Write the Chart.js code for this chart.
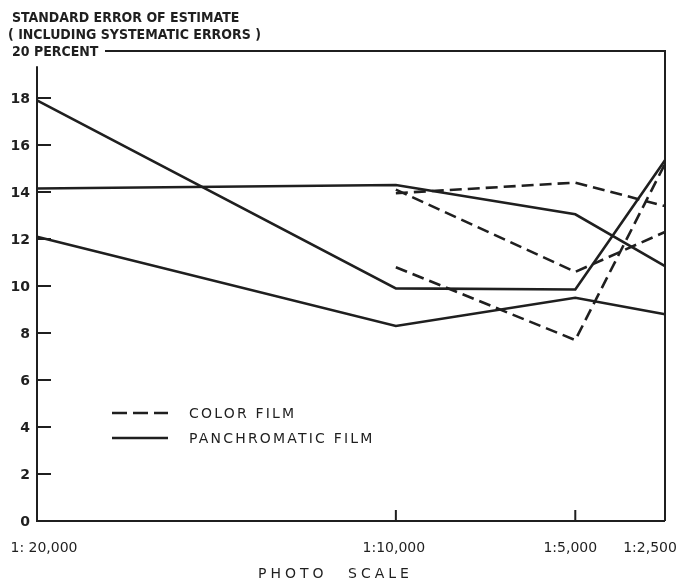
<!DOCTYPE html>
<html>
<head>
<meta charset="utf-8">
<script src="https://cdn.jsdelivr.net/npm/chart.js@4.4.1/dist/chart.umd.min.js"></script>
<style>
  html, body { margin: 0; padding: 0; background: #fff; }
  #wrap { width: 679px; height: 582px; position: relative; }
</style>
</head>
<body>
<div id="wrap"><canvas id="c" width="679" height="582"></canvas></div>
<script>
// ---- data ----
const photoScales = [20000, 10000, 5000, 2500];
const xTickLabels = ['1: 20,000', '1:10,000', '1:5,000', '1:2,500'];
const yTickValues = [0, 2, 4, 6, 8, 10, 12, 14, 16, 18];
const innerTickValues = [2, 4, 6, 8, 10, 12, 14, 16, 18];
const xInnerTicks = [10000, 5000];

const panA = [17.9, 9.9, 9.85, 15.35];
const panB = [14.15, 14.3, 13.05, 10.85];
const panC = [12.1, 8.3, 9.5, 8.8];
const colorA = [null, 13.95, 14.4, 13.4];
const colorB = [null, 14.1, 10.6, 12.3];
const colorC = [null, 10.8, 7.7, 15.2];

const titleLines = ['STANDARD ERROR OF ESTIMATE', '( INCLUDING SYSTEMATIC ERRORS )', '20 PERCENT'];
const xTitleWords = ['PHOTO', 'SCALE'];
const legendLabels = ['COLOR FILM', 'PANCHROMATIC FILM'];

const INK = '#1f1f1f';
const DASH = [12, 6];

function pts(arr) {
  return photoScales.map((s, i) => ({ x: s, y: arr[i] })).filter(p => p.y !== null);
}
function ds(label, arr, dashed) {
  return {
    label, data: pts(arr),
    borderColor: INK, backgroundColor: INK,
    borderWidth: 2.6, borderDash: dashed ? DASH : [],
    pointRadius: 0, tension: 0, fill: false, clip: false
  };
}

const boldFont = 'bold 14px "DejaVu Sans Condensed", "Liberation Sans", sans-serif';
const regFont = '14px "DejaVu Sans", "Liberation Sans", sans-serif';

const decor = {
  id: 'decor',
  beforeDraw(chart) {
    const ctx = chart.ctx;
    ctx.save();
    ctx.fillStyle = '#fff';
    ctx.fillRect(0, 0, chart.width, chart.height);
    ctx.restore();
  },
  beforeDatasetsDraw(chart) {
    const ctx = chart.ctx;
    const x = chart.scales.x, y = chart.scales.y;
    const L = x.getPixelForValue(20000), R = x.getPixelForValue(2500);
    const B = y.getPixelForValue(0), T = y.getPixelForValue(20);
    ctx.save();
    ctx.strokeStyle = INK;
    ctx.lineWidth = 2;
    ctx.lineCap = 'butt';
    // axes & frame
    ctx.beginPath();
    ctx.moveTo(L, y.getPixelForValue(19.35)); ctx.lineTo(L, B); ctx.lineTo(R, B);
    ctx.moveTo(R, B); ctx.lineTo(R, T); ctx.lineTo(105, T);
    ctx.stroke();
    // inner ticks
    ctx.beginPath();
    innerTickValues.forEach(v => {
      const py = y.getPixelForValue(v);
      ctx.moveTo(L, py); ctx.lineTo(L + 14, py);
    });
    xInnerTicks.forEach(v => {
      const px = x.getPixelForValue(v);
      ctx.moveTo(px, B); ctx.lineTo(px, B - 11);
    });
    ctx.stroke();

    // y labels
    ctx.fillStyle = INK;
    ctx.font = 'bold 14px "DejaVu Sans", "Liberation Sans", sans-serif';
    ctx.textAlign = 'right';
    ctx.textBaseline = 'middle';
    yTickValues.forEach(v => {
      ctx.fillText(String(v), L - 7, y.getPixelForValue(v) + 1);
    });

    // x labels
    ctx.font = regFont;
    ctx.textBaseline = 'middle';
    const xOffsets = [7, -2, -5, -15];
    photoScales.forEach((s, i) => {
      ctx.textAlign = 'center';
      const w = ctx.measureText(xTickLabels[i]).width;
      let px = x.getPixelForValue(s) + xOffsets[i];
      if (i === 0) px = Math.max(px, 7 + w / 2);
      if (i === photoScales.length - 1) px = Math.min(px, chart.width - 1 - w / 2);
      ctx.fillText(xTickLabels[i], px, B + 27);
    });

    // x title
    ctx.font = '14px "DejaVu Sans", "Liberation Sans", sans-serif';
    ctx.letterSpacing = '4px';
    ctx.textAlign = 'left';
    ctx.fillText(xTitleWords[0], 258, B + 53);
    ctx.fillText(xTitleWords[1], 348, B + 53);
    ctx.letterSpacing = '0px';

    // title lines
    ctx.font = boldFont;
    ctx.textAlign = 'left';
    ctx.fillText(titleLines[0], 12, 18);
    ctx.fillText(titleLines[1], 8, 35);
    ctx.fillText(titleLines[2], 12, 52);

    // legend
    const lx0 = 112, lx1 = 168;
    const ly = [413, 438];
    ctx.lineWidth = 2.6;
    ctx.setLineDash([15, 6]);
    ctx.beginPath(); ctx.moveTo(lx0, ly[0]); ctx.lineTo(lx1, ly[0]); ctx.stroke();
    ctx.setLineDash([]);
    ctx.beginPath(); ctx.moveTo(lx0, ly[1]); ctx.lineTo(lx1, ly[1]); ctx.stroke();
    ctx.font = '14px "DejaVu Sans", "Liberation Sans", sans-serif';
    ctx.letterSpacing = '2.2px';
    ctx.textAlign = 'left';
    ctx.fillText(legendLabels[0], 189, ly[0] + 1);
    ctx.fillText(legendLabels[1], 189, ly[1] + 1);
    ctx.letterSpacing = '0px';
    ctx.restore();
  }
};

new Chart(document.getElementById('c'), {
  type: 'line',
  data: {
    datasets: [
      ds('Panchromatic A', panA, false),
      ds('Panchromatic B', panB, false),
      ds('Panchromatic C', panC, false),
      ds('Color A', colorA, true),
      ds('Color B', colorB, true),
      ds('Color C', colorC, true)
    ]
  },
  options: {
    responsive: false,
    animation: false,
    events: [],
    layout: { padding: { left: 37, right: 14, top: 51, bottom: 61 } },
    plugins: { legend: { display: false }, tooltip: { enabled: false }, title: { display: false } },
    scales: {
      x: { type: 'linear', reverse: true, min: 2500, max: 20000, display: false },
      y: { type: 'linear', min: 0, max: 20, display: false }
    }
  },
  plugins: [decor]
});
</script>
</body>
</html>
